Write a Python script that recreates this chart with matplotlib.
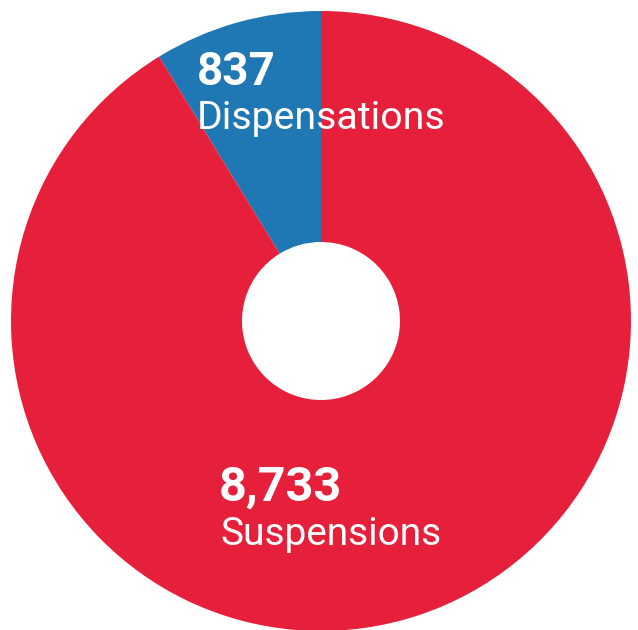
import matplotlib
matplotlib.use("Agg")
import matplotlib.pyplot as plt

categories = ["Dispensations", "Suspensions"]
values = [837, 8733]
value_labels = ["837", "8,733"]
colors = ["#1f77b4", "#e61f3a"]

W, H = 638, 630
fig = plt.figure(figsize=(W / 100, H / 100), dpi=100)
ax = fig.add_axes([0, 0, 1, 1])

cx, cy, R, r_in = 321, H - 321, 310, 79
ax.pie(values, colors=colors, startangle=90, counterclock=True,
       center=(cx, cy), radius=R, frame=True,
       wedgeprops=dict(width=R - r_in, linewidth=0))
ax.set_xlim(0, W)
ax.set_ylim(0, H)
ax.set_aspect("equal")
ax.axis("off")

font = "Roboto"
# Dispensations label
ax.text(197, H - 85, value_labels[0], color="white", fontsize=33, fontweight="bold",
        family=font, ha="left", va="baseline")
ax.text(197, H - 129, categories[0], color="white", fontsize=28.3,
        family=font, ha="left", va="baseline")
# Suspensions label
ax.text(219, H - 501, value_labels[1], color="white", fontsize=35, fontweight="bold",
        family=font, ha="left", va="baseline")
ax.text(220, H - 545, categories[1], color="white", fontsize=28,
        family=font, ha="left", va="baseline")

fig.savefig("out.png", dpi=100)
